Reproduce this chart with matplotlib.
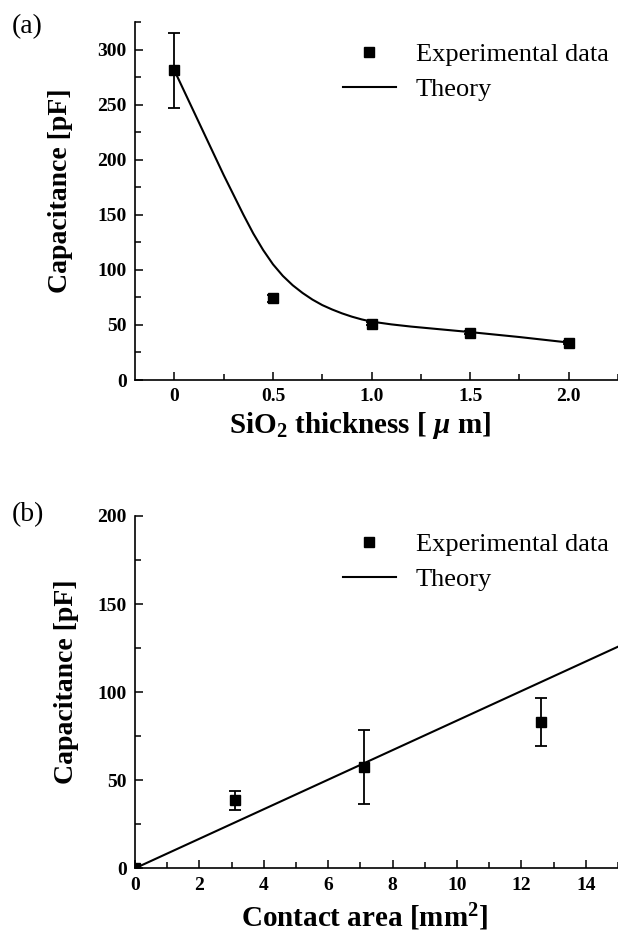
import matplotlib
matplotlib.use("Agg")
import matplotlib.pyplot as plt
from matplotlib.ticker import MultipleLocator

plt.rcParams["font.family"] = "Liberation Serif"
plt.rcParams["mathtext.fontset"] = "custom"
plt.rcParams["mathtext.rm"] = "Liberation Serif:bold"
plt.rcParams["mathtext.bf"] = "Liberation Serif:bold"
plt.rcParams["mathtext.it"] = "Liberation Serif:italic:bold"

# panel (a): capacitance vs SiO2 thickness
thick = [0, 0.5, 1.0, 1.5, 2.0]
cap_a = [281, 74, 51, 43, 34]
err_a = [34, 3, 1.5, 1.5, 1.5]
thick_theory = [0, 0.05, 0.1, 0.15, 0.2, 0.25, 0.3, 0.35, 0.4, 0.45, 0.5, 0.55,
                0.6, 0.65, 0.7, 0.75, 0.8, 0.85, 0.9, 0.95, 1.0, 1.1, 1.2, 1.35,
                1.5, 1.75, 2.0]
cap_a_theory = [281, 262, 243, 224, 205, 186, 168, 150, 133, 118, 105, 94.5,
                86, 79, 73, 68, 64, 60.5, 57.5, 55, 53, 50.5, 48.5, 46,
                43.5, 39, 34]

# panel (b): capacitance vs contact area
area = [0, 3.1, 7.1, 12.6]
cap_b = [0, 38.5, 57.3, 83.2]
err_b = [0, 5.5, 21, 13.5]
area_theory = [0, 15]
cap_b_theory = [0, 125.8]

W, H = 618, 933
fig = plt.figure(figsize=(W / 100, H / 100), dpi=100)


def px_axes(left, top, right, bottom):
    return fig.add_axes([left / W, 1 - bottom / H, (right - left) / W, (bottom - top) / H])


def style(ax):
    ax.spines["top"].set_visible(False)
    ax.spines["right"].set_visible(False)
    for s in ("left", "bottom"):
        ax.spines[s].set_linewidth(1.2)
    ax.tick_params(which="both", direction="in", width=1.1, labelsize=14, pad=6)
    ax.tick_params(which="major", length=6)
    ax.tick_params(which="minor", length=4)
    for lab in ax.get_xticklabels() + ax.get_yticklabels():
        lab.set_fontweight("bold")


def draw(ax, x, y, err, xt, yt, clip):
    ax.errorbar(x, y, yerr=err, fmt="none", ecolor="black", capsize=4,
                elinewidth=1.3, capthick=1.3, clip_on=clip, zorder=3)
    pts, = ax.plot(x, y, "s", color="black", ms=7.5, clip_on=clip, zorder=4,
                   linestyle="none")
    line, = ax.plot(xt, yt, color="black", lw=1.5)
    return pts, line


def legend(ax, handles, top_px):
    ax.legend(handles, ["Experimental data", "Theory"], loc="upper left",
              bbox_to_anchor=(343 / W, 1 - top_px / H),
              bbox_transform=fig.transFigure, frameon=False, fontsize=19,
              handlelength=2.0, handletextpad=0.75, labelspacing=0.42,
              borderpad=0, borderaxespad=0)


# (a)
ax1 = px_axes(135, 22, 618, 380)
h1 = draw(ax1, thick, cap_a, err_a, thick_theory, cap_a_theory, False)
ax1.set_xlim(-0.2, 2.25)
ax1.set_ylim(0, 325)
ax1.xaxis.set_minor_locator(MultipleLocator(0.25))
ax1.yaxis.set_major_locator(MultipleLocator(50))
ax1.yaxis.set_minor_locator(MultipleLocator(25))
ax1.set_xticks([0, 0.5, 1.0, 1.5, 2.0], ["0", "0.5", "1.0", "1.5", "2.0"])
style(ax1)
ax1.set_xlabel("SiO$_2$ thickness [ $\\mu$ m]", fontsize=21, fontweight="bold", va="baseline")
ax1.xaxis.set_label_coords((360 - 135) / 483, -0.148)
ax1.set_ylabel("Capacitance [pF]", fontsize=20, fontweight="bold", va="center")
ax1.yaxis.set_label_coords(-0.155, 0.529)
legend(ax1, h1, 43)
fig.text(12 / W, 1 - 27 / H, "(a)", fontsize=20, va="center", ha="left")

# (b)
ax2 = px_axes(135, 516, 618, 868.3)
h2 = draw(ax2, area, cap_b, err_b, area_theory, cap_b_theory, True)
ax2.set_xlim(0, 15)
ax2.set_ylim(0, 200)
ax2.xaxis.set_major_locator(MultipleLocator(2))
ax2.xaxis.set_minor_locator(MultipleLocator(1))
ax2.yaxis.set_major_locator(MultipleLocator(50))
ax2.yaxis.set_minor_locator(MultipleLocator(25))
style(ax2)
ax2.set_xlabel("Contact area [mm$^2$]", fontsize=21, fontweight="bold", va="baseline")
ax2.xaxis.set_label_coords((365 - 135) / 483, -0.166)
ax2.set_ylabel("Capacitance [pF]", fontsize=20, fontweight="bold", va="center")
ax2.yaxis.set_label_coords(-0.141, 0.53)
legend(ax2, h2, 533)
fig.text(12 / W, 1 - 515 / H, "(b)", fontsize=20, va="center", ha="left")

fig.savefig("out.png", dpi=100)
